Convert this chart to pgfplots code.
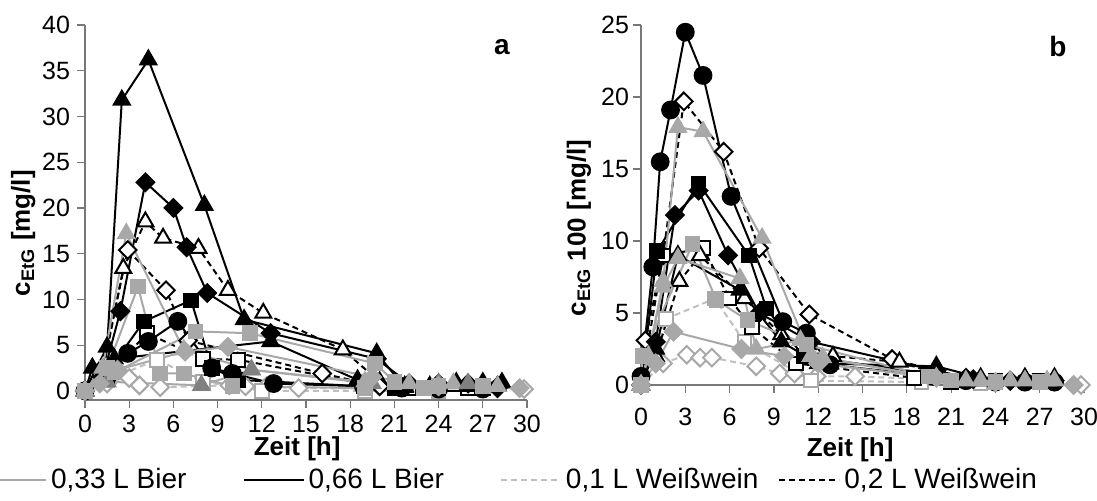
\documentclass[border=0pt]{standalone}
\usepackage{fontspec}
\setmainfont{Liberation Sans}
\usepackage{pgfplots}
\pgfplotsset{compat=1.18}
\definecolor{lgray}{RGB}{168,168,168}
\definecolor{dgray}{RGB}{128,128,128}
\definecolor{wgray}{RGB}{192,192,192}
\definecolor{axgray}{RGB}{120,120,120}

\pgfplotsset{
  bier33/.style={color=lgray, line width=1pt, solid},
  bier66/.style={color=black, line width=1pt, solid},
  wein01/.style={color=wgray, line width=1pt, dash pattern=on 3pt off 2pt},
  wein02/.style={color=black, line width=1pt, dash pattern=on 3pt off 2pt},
  mtri/.style={mark=triangle*, mark size=4.6pt},
  msq/.style={mark=square*, mark size=3.4pt},
  mci/.style={mark=*, mark size=4.2pt},
  mdi/.style={mark=square*, mark size=3.1pt, every mark/.append style={rotate=45}},
  fblack/.style={every mark/.append style={solid, fill=black, draw=black}},
  fgray/.style={every mark/.append style={solid, fill=lgray, draw=lgray}},
  fdgray/.style={every mark/.append style={solid, fill=dgray, draw=dgray}},
  oblack/.style={every mark/.append style={solid, fill=white, draw=black}},
  ogray/.style={every mark/.append style={solid, fill=white, draw=lgray}},
  panel/.style={
    scale only axis, clip=false,
    xmin=0, xmax=30, xtick={0,3,...,30},
    axis lines*=left,
    axis line style={-, axgray, line width=0.6pt},
    tick align=outside,
    major tick length=4pt,
    tick style={axgray, line width=0.6pt},
    tick label style={font=\fontsize{12.5}{14}\selectfont},
    /pgf/number format/assume math mode=true,
    xlabel={Zeit [h]},
    xlabel style={font=\bfseries\fontsize{13}{15}\selectfont, anchor=center},
    ylabel style={font=\bfseries\fontsize{13}{15}\selectfont, anchor=center},
  },
}

\begin{document}
\begin{tikzpicture}
\path[use as bounding box] (0,0) rectangle (548.5pt,250pt);

% ---------------- panel a ----------------
\begin{axis}[panel,
  at={(42.5pt,50pt)}, anchor=south west,
  width=221pt, height=187.5pt,
  ymin=-1, ymax=40, ytick={0,5,...,40},
  ylabel={c\textsubscript{EtG} [mg/l]},
  ylabel style={at={(axis description cs:-0.14,0.445)}},
  xlabel style={at={(axis description cs:0.48,-0.13)}},
  legend columns=4,
  legend style={at={(axis description cs:-0.226,-0.213)}, anchor=west,
    draw=none, fill=none, font=\fontsize{14}{16}\selectfont,
    inner sep=0pt, outer sep=0pt,
    /tikz/column 2/.style={column sep=26pt},
    /tikz/column 4/.style={column sep=26pt},
    /tikz/column 6/.style={column sep=8pt}},
  legend image code/.code={\draw[#1] (0pt,0pt) -- (30pt,0pt);},
]
\addlegendimage{bier33}
\addlegendimage{bier66}
\addlegendimage{wein01}
\addlegendimage{wein02}
\legend{{0,33 L Bier}, {0,66 L Bier}, {0,1 L Weißwein}, {0,2 L Weißwein}}

% 0,1 L Weisswein
\addplot[wein01, ogray, mdi] coordinates {(0,0) (1.5,0.8) (3.0,1.4) (3.7,0.6) (5.1,0.4) (9.8,0.6) (10.9,0.5) (12.3,0.5) (14.5,0.3) (29.8,0.2)};
\addplot[wein01, ogray, msq] coordinates {(0,0) (1.5,1.2) (4.9,3.4) (8.0,1.0) (12.0,0) (19.0,0) (24.0,0)};
% 0,2 L Weisswein
\addplot[wein02, oblack, mtri] coordinates {(0,0) (1.2,2.0) (2.6,13.4) (4.1,18.5) (5.3,16.7) (7.7,15.6) (9.7,11.0) (12.1,8.5) (17.5,4.5) (20.0,1.0) (22.0,0.5) (25.0,0.5) (28.0,0.5)};
\addplot[wein02, oblack, mdi] coordinates {(0,0) (1.2,2.5) (2.9,15.4) (5.5,11.0) (7.0,5.5) (16.1,1.9) (20.0,0.5) (24.0,0.3) (28.0,0.3)};
\addplot[wein02, oblack, msq] coordinates {(0,0) (1.5,1.5) (4.2,6.3) (8.0,3.5) (10.4,3.4) (18.9,0.8) (22.0,0.3) (26.0,0.3)};
% 0,66 L Bier
\addplot[bier66, fblack, mtri] coordinates {(0,0) (1.5,4.8) (2.5,31.8) (4.3,36.2) (8.1,20.3) (10.8,7.8) (19.8,4.1) (21.7,0.4) (23.4,0.5) (25.2,0.9) (27.0,0.9) (28.3,0.9)};
\addplot[bier66, fblack, mtri] coordinates {(0,0) (0.5,2.5) (2.0,3.5) (12.6,5.4) (18.5,1.2) (21.7,0.5) (24.0,0.5) (26.0,0.5) (28.0,0.5)};
\addplot[bier66, fblack, mdi] coordinates {(0,0) (1.2,1.5) (2.4,8.7) (4.1,22.8) (6.0,20.0) (6.9,15.7) (8.3,10.7) (12.6,6.3) (19.8,3.5) (22.0,0.8) (24.0,0.8) (26.0,0.8) (28.0,0.5)};
\addplot[bier66, fblack, msq] coordinates {(0,0) (1.5,2.0) (4.0,7.6) (7.2,9.9) (8.6,2.5) (10.4,1.2) (18.9,0.5) (21.0,0.3) (24.0,0.3) (27.0,0.3)};
\addplot[bier66, fblack, mci] coordinates {(0,0) (1.5,1.5) (2.9,4.1) (4.3,5.4) (6.3,7.6) (8.6,2.5) (10.0,1.9) (12.8,0.8) (18.9,0.5) (21.5,0.3) (24.0,0.2) (27.0,0.2)};
% 0,33 L Bier
\addplot[bier33, fgray, mtri] coordinates {(0,0) (1.2,2.5) (2.8,17.2) (6.7,4.5) (11.3,2.3) (19.0,1.0) (22.0,0.8) (25.0,0.8) (28.0,0.5)};
\addplot[bier33, fdgray, mtri] coordinates {(0,0) (1.5,1.0) (7.9,0.6) (11.3,2.3) (19.5,0.8) (24.0,0.8) (26.0,0.8)};
\addplot[bier33, fgray, msq] coordinates {(0,0) (1.5,2.5) (3.6,11.4) (5.1,1.9) (6.7,1.9) (10.0,0.5) (19.0,0.3) (23.0,0.3)};
\addplot[bier33, fgray, msq] coordinates {(0,0) (2.0,2.0) (7.5,6.5) (11.2,6.3) (19.7,3.0) (21.0,1.0) (24.0,0.5) (27.0,0.5)};
\addplot[bier33, fgray, mdi] coordinates {(0,0) (1.0,0.8) (2.2,2.3) (6.8,4.3) (9.7,4.8) (19.5,1.5) (24.0,0.5) (29.5,0.3)};

\node[font=\bfseries\fontsize{14}{16}\selectfont] at (axis description cs:0.943,0.941) {a};
\end{axis}

% ---------------- panel b ----------------
\begin{axis}[panel,
  at={(320.5pt,57.5pt)}, anchor=south west,
  width=221.5pt, height=180pt,
  ymin=0, ymax=25, ytick={0,5,...,25},
  ylabel={c\textsubscript{EtG} 100 [mg/l]},
  ylabel style={at={(axis description cs:-0.14,0.436)}},
  yticklabel style={xshift=1.5pt},
  xlabel style={at={(axis description cs:0.472,-0.18)}},
  xticklabel style={yshift=-4pt},
]
% 0,1 L Weisswein
\addplot[wein01, ogray, mdi] coordinates {(0,0) (1.5,1.5) (3.1,2.1) (4.0,1.9) (4.8,1.9) (7.8,1.3) (9.4,0.8) (10.4,0.8) (11.9,0.6) (14.5,0.6) (29.8,0)};
\addplot[wein01, ogray, msq] coordinates {(0,0) (1.7,4.6) (5.0,6.0) (7.0,3.0) (11.5,0.3) (19.0,0.2) (23.0,0.1)};
% 0,2 L Weisswein
\addplot[wein02, oblack, mdi] coordinates {(0,0) (0.3,3.1) (1.5,9.0) (2.9,19.7) (5.6,16.2) (8.0,9.5) (11.4,4.9) (17.0,1.8) (20.0,1.0) (22.0,0.5) (25.0,0.3) (28.0,0.3)};
\addplot[wein02, oblack, msq] coordinates {(0,0) (1.5,9.0) (4.2,9.5) (6.0,6.0) (7.5,4.0) (10.5,1.5) (18.5,0.5) (21.0,0.2) (24.0,0.2)};
\addplot[wein02, oblack, mtri] coordinates {(0,0) (1.0,2.0) (2.6,7.2) (4.0,9.0) (7.0,6.0) (9.5,3.5) (13.0,2.0) (17.5,1.6) (20.0,0.8) (23.0,0.3) (26.0,0.3)};
% 0,66 L Bier
\addplot[bier66, fblack, mci] coordinates {(0,0.6) (0.8,8.2) (1.3,15.5) (2.0,19.1) (3.0,24.5) (4.2,21.5) (6.1,13.1) (9.6,4.4) (11.2,3.6) (12.8,1.4) (19.8,0.6) (22.0,0.3) (24.0,0.2) (26.0,0.2) (28.0,0.2)};
\addplot[bier66, fblack, msq] coordinates {(0,0) (1.1,9.3) (3.9,14.0) (7.3,9.0) (8.5,5.3) (11.0,2.0) (19.5,0.8) (21.5,0.3) (24.0,0.3) (27.0,0.3)};
\addplot[bier66, fblack, mdi] coordinates {(0,0) (1.0,3.0) (2.3,11.8) (3.9,13.5) (5.9,9.0) (8.0,5.0) (11.5,3.0) (20.0,1.0) (22.5,0.4) (25.0,0.3) (28.0,0.3)};
\addplot[bier66, fblack, mtri] coordinates {(0,0) (1.0,2.5) (2.5,9.0) (6.7,6.6) (9.5,3.0) (12.0,1.5) (20.0,1.3) (23.0,0.5) (26.0,0.5) (28.0,0.5)};
% 0,33 L Bier
\addplot[bier33, fgray, mtri] coordinates {(0,0) (0.5,2.0) (1.5,7.2) (2.5,17.9) (4.2,17.6) (8.2,10.2) (11.5,2.0) (20.0,0.5) (22.0,0.3) (25.0,0.3) (27.5,0.3)};
\addplot[bier33, fgray, mtri] coordinates {(0,0) (1.5,6.8) (2.5,8.8) (6.7,7.4) (7.8,2.5) (10.8,3.1) (12.3,1.9) (20.0,0.5) (23.0,0.3) (26.0,0.3) (28.0,0.3)};
\addplot[bier33, fgray, msq] coordinates {(0,0) (0.1,2.0) (3.5,9.8) (5.1,5.9) (7.2,4.5) (11.2,2.8) (19.5,0.6) (21.0,0.3) (24.0,0.2) (27.0,0.2)};
\addplot[bier33, fgray, mdi] coordinates {(0,0) (1.0,1.5) (2.2,3.7) (6.8,2.5) (9.7,2.0) (12.0,1.5) (20.0,0.5) (24.0,0.2) (29.3,0)};

\node[font=\bfseries\fontsize{14}{16}\selectfont] at (axis description cs:0.941,0.939) {b};
\end{axis}
\end{tikzpicture}
\end{document}
